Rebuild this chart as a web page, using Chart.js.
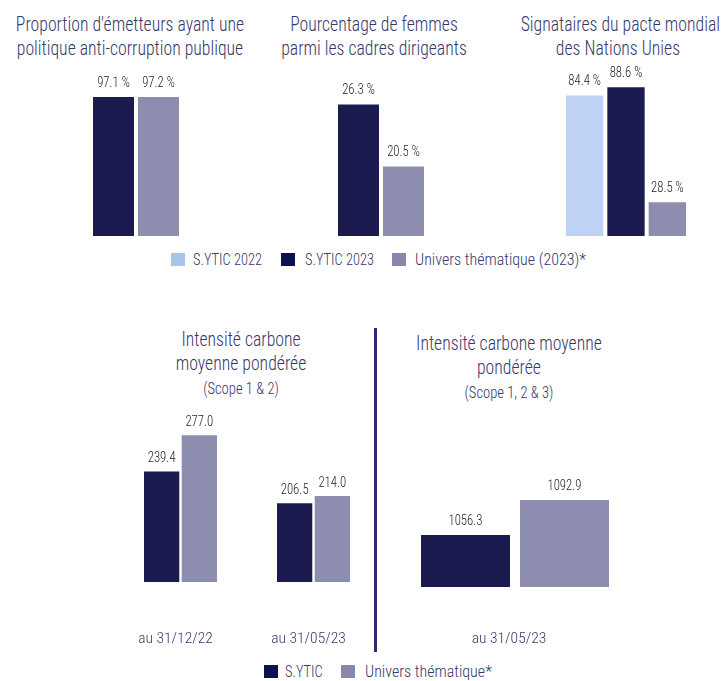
<!DOCTYPE html>
<html lang="fr">
<head>
<meta charset="utf-8">
<title>Indicateurs ESG</title>
<script src="https://cdn.jsdelivr.net/npm/chart.js@4.4.0/dist/chart.umd.min.js"></script>
<style>
  html, body { margin:0; padding:0; background:#fff; overflow:hidden; }
  body { width:721px; height:681px; position:relative;
         font-family:'Roboto Condensed','Roboto',sans-serif; font-weight:300; }
  canvas { position:absolute; }
  .title { position:absolute; text-align:center; color:#37386a; font-size:20px; line-height:24px; white-space:nowrap;
           transform:scaleX(0.885); transform-origin:50% 0; }
  .sub { font-size:16.5px; line-height:23px; }
  .legend { position:absolute; color:#37386a; font-size:16px; white-space:nowrap; height:16px; line-height:16px; }
  .legend span.sw { display:inline-block; width:14px; height:13px; vertical-align:-1px; }
  .legend span.it { position:absolute; top:0; }
  .legend span.tx { transform:scaleX(0.9); transform-origin:0 50%; display:inline-block; }
  #divider { position:absolute; left:374px; top:328px; width:2.5px; height:324px; background:#2d2c6b; }
</style>
</head>
<body>
<div class="title" style="left:0;width:260px;top:12px;">Proportion d'émetteurs ayant une<br>politique anti-corruption publique</div>
<div class="title" style="left:264px;width:220px;top:12px;">Pourcentage de femmes<br>parmi les cadres dirigeants</div>
<div class="title" style="left:508px;width:220px;top:12px;">Signataires du pacte mondial<br>des Nations Unies</div>

<canvas id="c1" width="180" height="176" style="left:46px;top:60px;"></canvas>
<canvas id="c2" width="180" height="176" style="left:291px;top:60px;"></canvas>
<canvas id="c3" width="180" height="176" style="left:536px;top:60px;"></canvas>

<div class="legend" style="left:0;top:252px;width:721px;">
  <span class="it" style="left:171px;"><span class="sw" style="background:#a9c4e8"></span></span>
  <span class="it tx" style="left:193px;">S.YTIC 2022</span>
  <span class="it" style="left:281px;"><span class="sw" style="background:#0e1150"></span></span>
  <span class="it tx" style="left:305px;">S.YTIC 2023</span>
  <span class="it" style="left:392px;"><span class="sw" style="background:#8687ab"></span></span>
  <span class="it" style="left:415px;">Univers thématique (2023)*</span>
</div>

<div class="title" style="left:131px;width:220px;top:327px;">Intensité carbone<br>moyenne pondérée<br><span class="sub">(Scope 1 &amp; 2)</span></div>
<div class="title" style="left:399px;width:220px;top:331px;">Intensité carbone moyenne<br>pondérée<br><span class="sub">(Scope 1, 2 &amp; 3)</span></div>

<canvas id="c4" width="266" height="252" style="left:114px;top:400px;"></canvas>
<canvas id="c5" width="220" height="217" style="left:405px;top:440px;"></canvas>

<div id="divider"></div>

<div class="legend" style="left:0;top:664px;width:721px;">
  <span class="it" style="left:264px;"><span class="sw" style="background:#0e1150"></span></span>
  <span class="it tx" style="left:285px;">S.YTIC</span>
  <span class="it" style="left:341px;"><span class="sw" style="background:#8687ab"></span></span>
  <span class="it" style="left:365px;">Univers thématique*</span>
</div>

<script>
// ---- Data ----
const seriesNames = ['S.YTIC 2022', 'S.YTIC 2023', 'Univers thématique (2023)*'];
const antiCorruption = [97.1, 97.2];          // S.YTIC 2023, Univers
const femmesCadres = [26.3, 20.5];            // S.YTIC 2023, Univers
const pacteMondial = [84.4, 88.6, 28.5];      // S.YTIC 2022, S.YTIC 2023, Univers
const carbonDates12 = ['au 31/12/22', 'au 31/05/23'];
const scope12Sytic = [239.4, 206.5];
const scope12Univers = [277.0, 214.0];
const carbonDates123 = ['au 31/05/23'];
const scope123Sytic = [1056.3];
const scope123Univers = [1092.9];

// ---- Styles ----
const LIGHT = '#bed2f6', DARK = '#1c1b4f', GRAY = '#8d8db0';
const FONT = "'Roboto Condensed', Roboto, sans-serif";
Chart.defaults.font.family = FONT;

const valueLabels = {
  id: 'valueLabels',
  afterDatasetsDraw(chart, args, opts) {
    const ctx = chart.ctx;
    chart.data.datasets.forEach((ds, i) => {
      const meta = chart.getDatasetMeta(i);
      meta.data.forEach((bar, j) => {
        const v = ds.data[j];
        if (v == null) return;
        const txt = v.toFixed(1) + (opts.suffix || '');
        ctx.save();
        ctx.font = '300 ' + (opts.size || 14) + 'px ' + FONT;
        ctx.fillStyle = '#1e1e1e';
        ctx.textAlign = 'center';
        ctx.textBaseline = 'middle';
        ctx.translate(bar.x, bar.y - (opts.offset || 14));
        ctx.scale(0.88, 1);
        ctx.fillText(txt, 0, 0);
        ctx.restore();
      });
    });
  }
};

function makeChart(id, labels, datasets, yMin, yMax, catP, barP, xOpts, labelOpts) {
  const xScale = Object.assign({ display: false }, xOpts || {});
  return new Chart(document.getElementById(id), {
    type: 'bar',
    data: { labels: labels, datasets: datasets.map(d => Object.assign({
      categoryPercentage: catP, barPercentage: barP, borderWidth: 0 }, d)) },
    options: {
      responsive: false,
      animation: false,
      devicePixelRatio: 1,
      layout: { padding: 0 },
      plugins: { legend: { display: false }, tooltip: { enabled: false }, valueLabels: labelOpts },
      scales: {
        x: xScale,
        y: { display: false, min: yMin, max: yMax }
      }
    },
    plugins: [valueLabels]
  });
}

makeChart('c1', [''], [
  { label: seriesNames[1], data: [antiCorruption[0]], backgroundColor: DARK },
  { label: seriesNames[2], data: [antiCorruption[1]], backgroundColor: GRAY }
], 0, 123, 0.5, 0.911, null, { suffix: ' %', offset: 14, size: 14.5 });

makeChart('c2', [''], [
  { label: seriesNames[1], data: [femmesCadres[0]], backgroundColor: DARK },
  { label: seriesNames[2], data: [femmesCadres[1]], backgroundColor: GRAY }
], 14, 30.46, 0.5, 0.911, null, { suffix: ' %', offset: 14, size: 14.5 });

makeChart('c3', [''], [
  { label: seriesNames[0], data: [pacteMondial[0]], backgroundColor: LIGHT },
  { label: seriesNames[1], data: [pacteMondial[1]], backgroundColor: DARK },
  { label: seriesNames[2], data: [pacteMondial[2]], backgroundColor: GRAY }
], 10.9, 102.9, 0.689, 0.903, null, { suffix: ' %', offset: 14, size: 14.5 });

function xAxis(tick, offset) {
  return {
    display: true,
    grid: { display: true, color: 'rgba(0,0,0,0)', drawOnChartArea: false, drawTicks: true, tickLength: tick },
    border: { display: false },
    ticks: { color: '#37386a', font: { size: 15.5, family: FONT, weight: 300 }, padding: 0, labelOffset: offset, maxRotation: 0 },
    afterFit(scale) { scale.height = 70; }
  };
}

makeChart('c4', carbonDates12, [
  { label: 'S.YTIC', data: scope12Sytic, backgroundColor: DARK },
  { label: 'Univers thématique*', data: scope12Univers, backgroundColor: GRAY }
], 125, 313.6, 0.567, 0.936, xAxis(48, -5), { suffix: '', offset: 13, size: 14.5 });

makeChart('c5', carbonDates123, [
  { label: 'S.YTIC', data: scope123Sytic, backgroundColor: DARK },
  { label: 'Univers thématique*', data: scope123Univers, backgroundColor: GRAY }
], 1002, 1155.8, 0.9, 0.899, xAxis(43, -6), { suffix: '', offset: 14, size: 14.5 });
</script>
</body>
</html>
